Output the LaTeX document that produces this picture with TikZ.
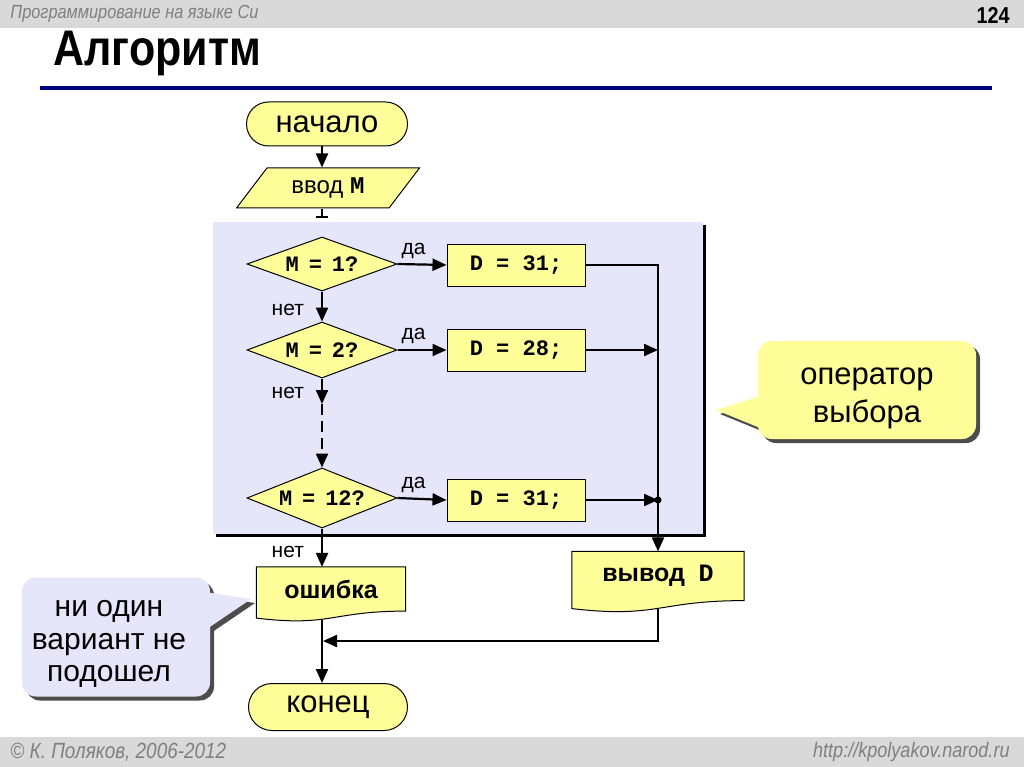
\documentclass[tikz,border=0pt]{standalone}
\usepackage{fontspec}
\setmainfont{Liberation Sans}
\setmonofont{Liberation Mono}
\newfontfamily\narrowfont{Liberation Sans}[FakeStretch=0.86]
\usetikzlibrary{shapes,shapes.geometric,shapes.misc,arrows.meta,calc,positioning,shadows}
\definecolor{lemon}{HTML}{FFFF99}
\definecolor{lilac}{HTML}{E6E6FA}
\definecolor{navyline}{HTML}{000080}
\definecolor{bandgray}{HTML}{D9D9D9}
\newcommand{\eqsp}{\hspace{0.45em}}
\tikzset{blk/.style={draw, fill=lemon, line width=1pt, inner sep=2pt}}
\tikzstyle{term}=[blk, rounded rectangle, minimum width=165pt, minimum height=44pt, font=\fontsize{31}{31}\selectfont]
\tikzstyle{cond}=[blk, diamond, aspect=2.7, minimum width=150pt, minimum height=56pt, inner sep=0pt, font=\fontsize{22}{22}\selectfont\ttfamily\bfseries]
\tikzstyle{act}=[blk, rectangle, minimum width=138pt, minimum height=42pt, font=\fontsize{22}{22}\selectfont\ttfamily\bfseries]
\tikzstyle{io}=[blk, trapezium, trapezium left angle=52, trapezium right angle=128, trapezium stretches=true, minimum width=183pt, minimum height=40pt, font=\fontsize{24}{24}\selectfont]
\tikzstyle{doc}=[inner sep=2pt, font=\fontsize{25}{25}\selectfont\bfseries]
\tikzstyle{docshape}=[draw, fill=lemon, line width=1pt]
\tikzstyle{lbl}=[font=\fontsize{21}{21}\selectfont, inner sep=2pt]
\tikzstyle{note}=[rounded corners=14pt, drop shadow={shadow xshift=4pt, shadow yshift=-4pt, fill=black!70, opacity=1}]
\tikzstyle{notetext}=[align=center, inner sep=0pt]

\begin{document}
\begin{tikzpicture}[x=1pt, y=-1pt, >={Triangle[length=14pt,width=12pt]}, line width=2.2pt]
\useasboundingbox (0,0) rectangle (1024,767);
\fill[white] (0,0) rectangle (1024,767);
% header and footer
\fill[bandgray] (0,0) rectangle (1024,28);
\fill[bandgray] (0,737) rectangle (1024,767);
\node[anchor=west, text=gray, font=\narrowfont\itshape\fontsize{19}{19}\selectfont] (hdr) at (6,14) {Программирование на языке Си};
\node[anchor=east, font=\narrowfont\bfseries\fontsize{23}{23}\selectfont] (pg) at (1014,15) {124};
\node[anchor=west, font=\narrowfont\bfseries\fontsize{50}{50}\selectfont] (ttl) at (49,53) {Алгоритм};
\draw[navyline, line width=4pt] (40,88) -- (992,88);
\node[anchor=west, text=gray, font=\narrowfont\itshape\fontsize{22}{22}\selectfont] (ftl) at (6,752) {© К. Поляков, 2006-2012};
\node[anchor=east, text=gray, font=\narrowfont\itshape\fontsize{21}{21}\selectfont] (ftr) at (1014,752) {http://kpolyakov.narod.ru};

% switch frame
\fill[lilac, drop shadow={shadow xshift=3pt, shadow yshift=-3pt, fill=black, opacity=1}] (213,222) rectangle (703,534);

% blocks
\node[term] (S) at (327,124) {начало};
\node[io] (In) at (328,188) {ввод \texttt{\textbf{M}}};
\node[cond, minimum height=54pt] (C1) at (322,264) {M\eqsp=\eqsp1?};
\node[cond] (C2) at (322,350) {M\eqsp=\eqsp2?};
\node[cond, minimum height=60pt] (C3) at (322,498) {M\eqsp=\eqsp12?};
\node[act] (A1) at (516,265) {D = 31;};
\node[act] (A2) at (516,350) {D = 28;};
\node[act] (A3) at (516,500) {D = 31;};
\node[doc, minimum width=170pt, minimum height=47pt] (Out) at (658,576) {};
\node[doc, minimum width=147pt, minimum height=42pt] (Err) at (331,589) {};
\node[term, minimum width=163pt, minimum height=47pt] (E) at (328,707) {конец};
\coordinate (cut) at (322,218);
\coordinate (gap) at (322,404);
\coordinate (join) at (323,641);

% connectors
\draw[->] (S.south -| C1) -- (In.north -| C1);
\draw[-{Bar[width=12pt]}] (In.south -| cut) -- (cut);
\draw[->] (C1.east) -- node[lbl, above=3pt, pos=0.33] {да} (A1.west);
\draw[->] (C2.east) -- node[lbl, above=3pt, pos=0.33] {да} (A2.west);
\draw[->] (C3.east) -- node[lbl, above=3pt, pos=0.33] {да} (A3.west);
\draw[->] (C1.south) -- node[lbl, left=15pt, pos=0.6] {нет} (C2.north);
\draw[->] (C2.south) -- node[lbl, left=15pt, pos=0.55] {нет} (gap);
\draw[->, dash pattern=on 11pt off 6pt] (gap) -- (C3.north);
\draw[->] (C3.south) -- node[lbl, left=15pt, pos=0.6] {нет} (C3.south |- Err.north);
\draw[->] (A1.east) -| (Out.north);
\draw[->] (A2.east) -- (A2.east -| Out.north);
\draw[->] (A3.east) -- (A3.east -| Out.north);
\fill (A3.east -| Out.north) circle (3.5pt);
\draw[->] ($(Out.south)+(0,8)$) |- (join);
\draw[->] ($(C3.south |- Err.south)+(0,9)$) -- (C3.south |- E.north);

% document shapes
\draw[docshape] (Out.north west) -- (Out.north east) -- (Out.south east)
  .. controls (Out.south) and ($(Out.south)+(0,18)$) .. ($(Out.south west)+(0,8)$) -- cycle;
\node[doc] (OutT) at (Out) {вывод~~\texttt{D}};
\draw[docshape] (Err.north west) -- (Err.north east) -- (Err.south east)
  .. controls (Err.south) and ($(Err.south)+(0,16)$) .. ($(Err.south west)+(0,7)$) -- cycle;
\node[doc] (ErrT) at (Err) {ошибка};

% notes
\fill[black!70] (720,414) -- (774,397) -- (774,436) -- cycle;
\node[note, fill=lemon, minimum width=218pt, minimum height=98pt] (N1) at (867,390) {};
\fill[lemon] (716,410) -- (770,393) -- (770,432) -- cycle;
\node[notetext, font=\fontsize{31}{38}\selectfont] (N1T) at (867,398) {оператор\\выбора};
\fill[black!70] (255,603) -- (202,595) -- (202,639) -- cycle;
\node[note, fill=lilac, minimum width=188pt, minimum height=119pt] (N2) at (116,637) {};
\fill[lilac] (251,599) -- (198,591) -- (198,635) -- cycle;
\node[notetext, font=\fontsize{30}{32.5}\selectfont] (N2T) at (109,644) {ни один\\вариант не\\подошел};
\end{tikzpicture}
\end{document}
